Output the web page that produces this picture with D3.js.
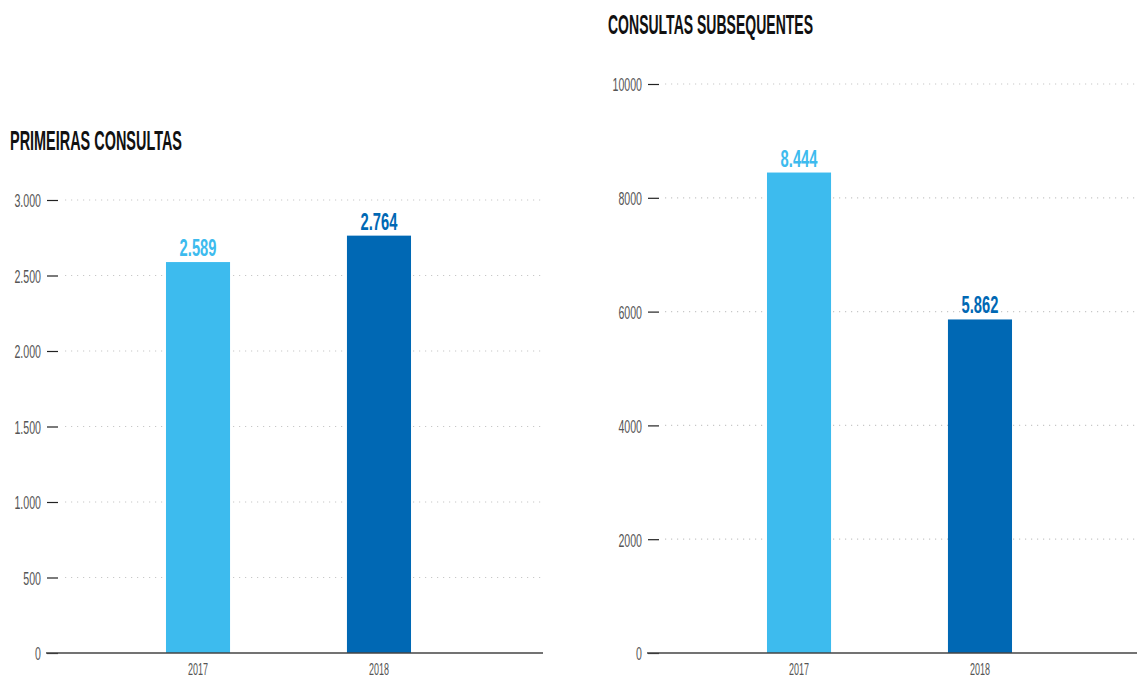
<!DOCTYPE html>
<html><head><meta charset="utf-8">
<script src="https://cdn.jsdelivr.net/npm/d3@7"></script>
<style>
html,body{margin:0;padding:0;background:#fff;}
svg{display:block;font-family:"Liberation Sans Narrow","Liberation Sans",Arial,sans-serif;}
</style></head>
<body>
<svg id="c" width="1137" height="679"></svg>
<script>
const categories = ["2017", "2018"];
const primeirasValues = [2589, 2764];
const subsequentesValues = [8444, 5862];
const leftTicks = [0, 500, 1000, 1500, 2000, 2500, 3000];
const rightTicks = [0, 2000, 4000, 6000, 8000, 10000];
const barColors = ["#3dbbee", "#0068b4"];
const titles = ["PRIMEIRAS CONSULTAS", "CONSULTAS SUBSEQUENTES"];

const ptLocale = d3.formatLocale({decimal: ",", thousands: ".", grouping: [3], currency: ["", ""]});
const fmtDot = ptLocale.format(",d");
const fmtPlain = d3.format("d");

const svg = d3.select("#c");

// fit text to a condensed width: digitW per digit, dotW per period
function fit(sel, digitW, dotW) {
  sel.each(function() {
    const s = this.textContent;
    let w = 0;
    for (const ch of s) w += (ch === "." ? dotW : digitW);
    d3.select(this).attr("textLength", w).attr("lengthAdjust", "spacingAndGlyphs");
  });
}

function drawChart(cfg) {
  const g = svg.append("g");
  const y = d3.scaleLinear().domain(cfg.domain).range([653, cfg.top]);
  const x = d3.scaleBand().domain(categories).range([cfg.bandStart, cfg.bandStart + 426])
    .paddingInner(0.646).paddingOuter(0.5);

  // gridlines
  g.append("g").selectAll("line").data(cfg.ticks.filter(d => d > 0)).join("line")
    .attr("x1", cfg.gridStart).attr("x2", cfg.axisEnd)
    .attr("y1", d => y(d)).attr("y2", d => y(d))
    .attr("stroke", "#c8c8c8").attr("stroke-width", 1.2)
    .attr("stroke-dasharray", "1.2,4.8");

  // y axis
  const ax = g.append("g").attr("transform", `translate(${cfg.tickEnd},0)`)
    .call(d3.axisLeft(y).tickValues(cfg.ticks).tickFormat(cfg.fmt).tickSize(11).tickPadding(6));
  ax.select(".domain").remove();
  ax.selectAll(".tick line").attr("stroke", "#222").attr("stroke-width", 1.2);
  ax.selectAll(".tick text").attr("fill", "#555").attr("dy", "0.36em")
    .attr("font-size", 19)
    .attr("font-family", "'Liberation Sans Narrow','Liberation Sans',Arial,sans-serif");
  fit(ax.selectAll(".tick text"), 5.9, 3);

  // bars
  g.append("g").selectAll("rect").data(cfg.values).join("rect")
    .attr("x", (d, i) => x(categories[i]))
    .attr("width", x.bandwidth())
    .attr("y", d => y(d))
    .attr("height", d => 653 - y(d))
    .attr("fill", (d, i) => barColors[i]);

  // baseline
  g.append("line").attr("x1", cfg.axisStart).attr("x2", cfg.axisEnd)
    .attr("y1", 653).attr("y2", 653).attr("stroke", "#444").attr("stroke-width", 1.5);

  // value labels
  const vl = g.append("g").selectAll("text").data(cfg.values).join("text")
    .attr("x", (d, i) => x(categories[i]) + x.bandwidth() / 2)
    .attr("y", d => y(d) - 6)
    .attr("text-anchor", "middle")
    .attr("fill", (d, i) => barColors[i])
    .attr("font-size", 24).attr("font-weight", "bold")
    .text(d => fmtDot(d));
  fit(vl, 8.2, 4);

  // x labels
  const xl = g.append("g").selectAll("text").data(categories).join("text")
    .attr("x", d => x(d) + x.bandwidth() / 2)
    .attr("y", 675)
    .attr("text-anchor", "middle")
    .attr("fill", "#555")
    .attr("font-size", 17)
    .text(d => d);
  fit(xl, 5, 3);

  // title
  g.append("text").attr("x", cfg.titleX).attr("y", cfg.titleY)
    .attr("fill", "#111").attr("font-size", 28).attr("font-weight", "bold")
    .attr("textLength", cfg.titleW).attr("lengthAdjust", "spacingAndGlyphs")
    .text(cfg.title);
}

drawChart({
  values: primeirasValues, domain: [0, 3000], top: 200, ticks: leftTicks, fmt: fmtDot,
  bandStart: 75.5, gridStart: 65, axisStart: 46, axisEnd: 543, tickEnd: 58,
  title: titles[0], titleX: 10, titleY: 150, titleW: 172
});
drawChart({
  values: subsequentesValues, domain: [0, 10000], top: 84, ticks: rightTicks, fmt: fmtPlain,
  bandStart: 676.5, gridStart: 665, axisStart: 647, axisEnd: 1137, tickEnd: 659,
  title: titles[1], titleX: 608, titleY: 34, titleW: 205
});
</script>
</body></html>
